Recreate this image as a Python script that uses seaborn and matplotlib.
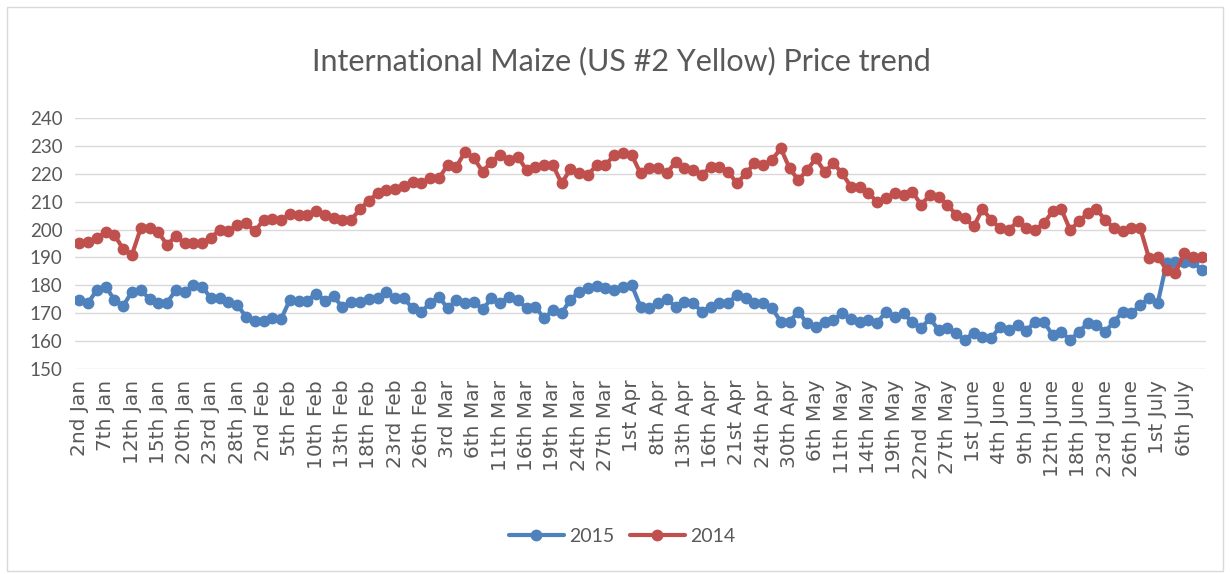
import numpy as np
import pandas as pd
import seaborn as sns
import matplotlib
matplotlib.use("Agg")
import matplotlib.pyplot as plt
from matplotlib.patches import Rectangle
from matplotlib.font_manager import FontProperties

# tick labels (every third trading day)
tick_labels = [
    "2nd Jan", "7th Jan", "12th Jan", "15th Jan", "20th Jan", "23rd Jan", "28th Jan",
    "2nd Feb", "5th Feb", "10th Feb", "13th Feb", "18th Feb", "23rd Feb", "26th Feb",
    "3rd Mar", "6th Mar", "11th Mar", "16th Mar", "19th Mar", "24th Mar", "27th Mar",
    "1st Apr", "8th Apr", "13th Apr", "16th Apr", "21st Apr", "24th Apr", "30th Apr",
    "6th May", "11th May", "14th May", "19th May", "22nd May", "27th May",
    "1st June", "4th June", "9th June", "12th June", "18th June", "23rd June", "26th June",
    "1st July", "6th July",
]

price_2015 = [
    174.7, 173.7, 178.3, 179.5, 174.7, 172.6, 177.7, 178.3, 175.0, 173.7,
    173.7, 178.3, 177.7, 180.0, 179.5, 175.3, 175.3, 174.0, 172.9, 168.7,
    167.3, 167.0, 168.1, 167.8, 174.7, 174.5, 174.5, 177.0, 174.5, 176.0,
    172.1, 174.0, 174.0, 175.0, 175.3, 177.4, 175.3, 175.3, 171.7, 170.5,
    173.5, 175.9, 171.7, 174.7, 173.5, 174.0, 171.3, 175.3, 173.7, 175.9,
    174.7, 171.7, 172.3, 168.1, 171.0, 170.0, 174.7, 177.7, 178.9, 179.7,
    178.9, 178.3, 179.5, 180.0, 172.3, 171.7, 173.7, 174.9, 172.3, 174.0,
    173.5, 170.5, 172.3, 173.5, 173.7, 176.5, 175.3, 173.5, 173.5, 171.7,
    166.9, 166.9, 170.5, 166.3, 165.1, 166.9, 167.5, 169.9, 167.8, 166.9,
    167.5, 166.5, 170.5, 168.7, 169.9, 166.6, 164.5, 168.1, 163.9, 164.5,
    162.7, 160.3, 163.0, 161.5, 160.9, 165.1, 163.9, 165.7, 163.7, 166.9,
    166.9, 162.1, 163.3, 160.3, 163.3, 166.3, 165.7, 163.3, 166.9, 170.5,
    169.9, 172.9, 175.3, 173.7, 187.9, 188.5, 188.5, 188.5, 185.5,
]

price_2014 = [
    195.1, 195.5, 197.0, 199.0, 198.0, 193.0, 191.0, 200.5, 200.5, 199.0,
    194.5, 197.7, 195.0, 195.0, 195.3, 197.0, 200.0, 199.5, 201.7, 202.5,
    199.3, 203.5, 203.7, 203.5, 205.5, 205.3, 205.3, 206.5, 205.3, 204.0,
    203.5, 203.5, 207.3, 210.4, 213.0, 214.2, 214.5, 215.7, 217.2, 216.9,
    218.4, 218.4, 223.2, 222.6, 228.0, 225.6, 220.8, 224.4, 226.8, 225.0,
    226.2, 221.4, 222.6, 223.2, 223.2, 216.6, 221.7, 220.2, 219.6, 223.2,
    223.2, 226.8, 227.4, 226.8, 220.2, 222.0, 222.0, 220.2, 224.4, 222.0,
    221.4, 219.6, 222.6, 222.6, 220.8, 216.6, 220.2, 223.8, 223.2, 225.0,
    229.2, 222.0, 217.8, 221.4, 225.6, 220.8, 223.8, 220.2, 215.4, 215.4,
    213.0, 210.0, 211.2, 213.0, 212.4, 213.6, 208.9, 212.4, 211.8, 208.9,
    205.3, 204.1, 201.1, 207.3, 203.5, 200.5, 199.9, 202.9, 200.5, 199.9,
    202.3, 206.5, 207.3, 199.9, 202.9, 205.9, 207.3, 203.5, 200.5, 199.3,
    200.5, 200.5, 189.7, 190.3, 185.5, 184.3, 191.5, 190.3, 190.3,
]

years = ["2015", "2014"]
colors = {"2015": "#4F81BD", "2014": "#C0504D"}

n = len(price_2015)
df = pd.DataFrame({
    "idx": list(range(n)) * 2,
    "price": price_2015 + price_2014,
    "year": ["2015"] * n + ["2014"] * n,
})

sns.set_theme(style="white")
plt.rcParams["font.family"] = ["DejaVu Sans"]

fig = plt.figure(figsize=(12.3, 5.74), dpi=100)
ax = fig.add_axes([0.061, 0.3577, 0.9195, 0.4363])

sns.lineplot(data=df, x="idx", y="price", hue="year", hue_order=years,
             palette=colors, marker="o", markersize=8.5, markeredgewidth=0,
             linewidth=3, ax=ax, legend=True)

ax.set_xlim(-0.5, n - 0.5)
ax.set_ylim(150, 240)
ax.set_yticks(np.arange(150, 241, 10))
ax.set_xticks(np.arange(0, 3 * len(tick_labels), 3))
ax.set_xticklabels(tick_labels, rotation=90)
ax.tick_params(axis="both", colors="#595959", length=0)
ax.tick_params(axis="x", pad=8)
ax.tick_params(axis="y", pad=9)
ax.set_xlabel("")
ax.set_ylabel("")
ax.grid(axis="y", color="#D9D9D9", linewidth=1)
ax.set_axisbelow(True)
for s in ax.spines.values():
    s.set_visible(False)

# fonts: DejaVu for the date labels, Lato (Calibri-like) elsewhere
for lab in ax.get_xticklabels():
    lab.set_fontproperties(FontProperties(family="DejaVu Sans", size=14.5))
for lab in ax.get_yticklabels():
    lab.set_fontproperties(FontProperties(family="Lato", size=13.5))

handles, labels = ax.get_legend_handles_labels()
ax.legend(handles, labels, loc="center", bbox_to_anchor=(0.506, 0.066),
          bbox_transform=fig.transFigure, ncol=2, frameon=False,
          prop=FontProperties(family="Lato", size=14),
          handlelength=2.8, columnspacing=0.8, handletextpad=0.3,
          labelcolor="#595959")

fig.suptitle("International Maize (US #2 Yellow) Price trend", x=0.505, y=0.918,
             color="#595959", fontproperties=FontProperties(family="Lato", size=22))

fig.patches.append(Rectangle((0.006, 0.006), 0.988, 0.981, transform=fig.transFigure,
                             fill=False, edgecolor="#D9D9D9", linewidth=1))

fig.savefig("out.png", dpi=100)
